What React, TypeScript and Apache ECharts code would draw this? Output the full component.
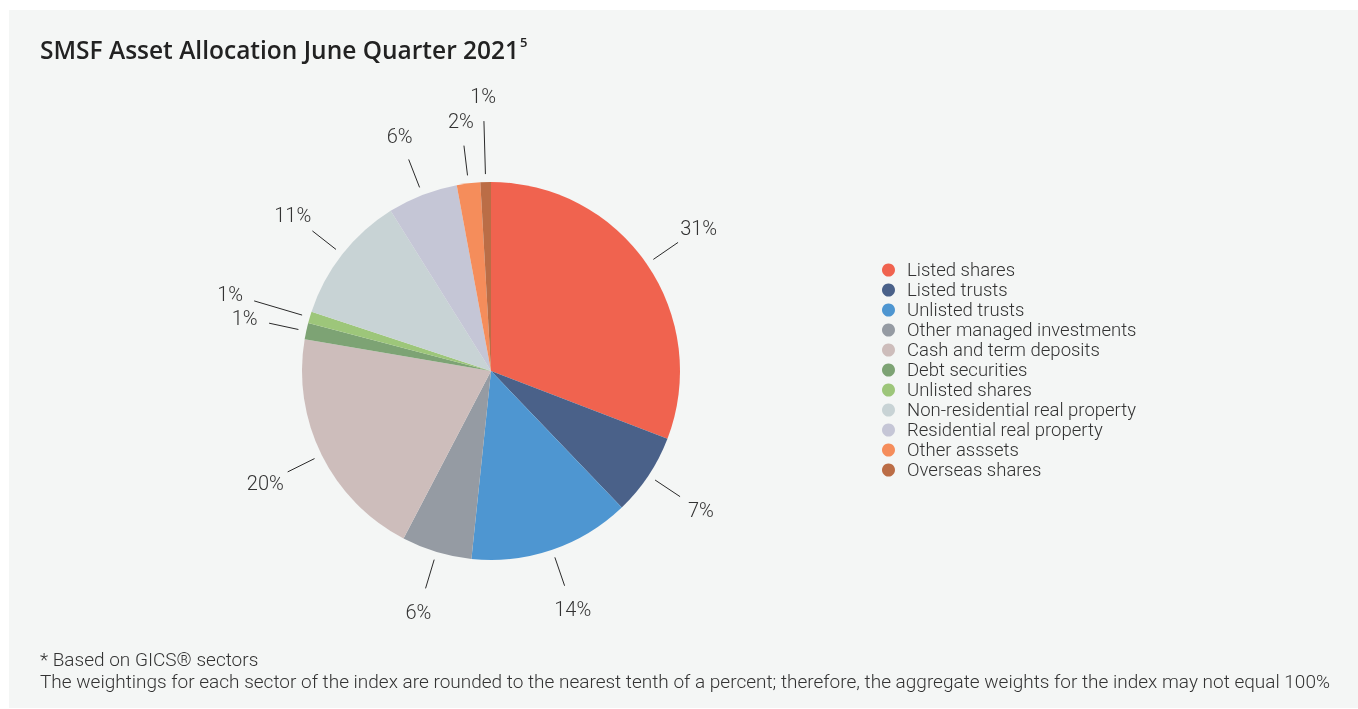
import React, { useEffect, useRef } from "react";
import * as echarts from "echarts";

const categories = [
  "Listed shares",
  "Listed trusts",
  "Unlisted trusts",
  "Other managed investments",
  "Cash and term deposits",
  "Debt securities",
  "Unlisted shares",
  "Non-residential real property",
  "Residential real property",
  "Other asssets",
  "Overseas shares",
];
const values = [30.8, 7.0, 13.8, 6.0, 20.0, 1.4, 1.0, 11.0, 6.0, 2.0, 0.9];
const colors = [
  "#f0634f",
  "#4a6189",
  "#4e96d1",
  "#959ba3",
  "#cdbdbb",
  "#7da374",
  "#9dc67a",
  "#c8d3d5",
  "#c5c6d6",
  "#f58d5b",
  "#bb6d46",
];
const titleText = "SMSF Asset Allocation June Quarter 2021";
const titleSup = "5";
const footnote1 = "* Based on GICS® sectors";
const footnote2 =
  "The weightings for each sector of the index are rounded to the nearest tenth of a percent; therefore, the aggregate weights for the index may not equal 100%";

const FONT = "Roboto, 'Liberation Sans', sans-serif";
const TITLE_FONT = "'Open Sans', Roboto, sans-serif";
const CX = 491;
const CY = 371;
const PIE_R = 189;
const LINE_START = 197;
const LABEL_R = 252;
const LABEL_GAP = 25;
const LABEL_FS = 20;

function textWidth(t: string, fs: number) {
  let w = 0;
  for (const ch of t) w += ch === "%" ? 0.78 * fs : 0.56 * fs;
  return w;
}

export default function App() {
  const ref = useRef<HTMLDivElement>(null);
  useEffect(() => {
    if (!ref.current) return;
    const chart = echarts.init(ref.current, undefined, { renderer: "svg" });
    const total = values.reduce((a, b) => a + b, 0);
    const labels = values.map((v) => `${Math.round(v)}%`);
    const mids: number[] = [];
    let acc = 0;
    values.forEach((v) => {
      mids.push(acc + v / 2);
      acc += v;
    });
    const boxes: { x: number; y: number; w: number; h: number }[] = [];
    const radii: number[] = [];
    const pad = 5;
    mids.forEach((m, i) => {
      const th = (m / total) * Math.PI * 2;
      const w = textWidth(labels[i], LABEL_FS);
      const h = LABEL_FS - 1;
      let r = LABEL_R;
      const mk = (rr: number) => ({
        x: rr * Math.sin(th) - w / 2,
        y: -rr * Math.cos(th) - h / 2,
        w,
        h,
      });
      let b = mk(r);
      const prev = boxes[i - 1];
      const overlaps = (a: any, c: any) =>
        a.x < c.x + c.w + pad &&
        c.x < a.x + a.w + pad &&
        a.y < c.y + c.h + pad &&
        c.y < a.y + a.h + pad;
      while (prev && overlaps(b, prev) && r < LABEL_R + 60) {
        r += 1;
        b = mk(r);
      }
      boxes.push(b);
      radii.push(r);
    });

    const option: any = {
      animation: false,
      color: colors,
      graphic: [
        {
          type: "rect",
          silent: true,
          z: -10,
          shape: { x: 9, y: 10, width: 1349, height: 698 },
          style: { fill: "#f4f6f5" },
        },
        {
          type: "text",
          x: 40,
          y: 49,
          style: {
            text: `{t|${titleText}}{s|${titleSup}}`,
            fill: "#222",
            verticalAlign: "middle",
            rich: {
              t: {
                fontFamily: TITLE_FONT,
                fontSize: 24.5,
                fontWeight: 600,
                fill: "#222",
                color: "#222",
                height: 28,
              },
              s: {
                fontFamily: TITLE_FONT,
                fontSize: 13,
                fontWeight: 600,
                color: "#222",
                fill: "#222",
                height: 28,
                lineHeight: 28,
                padding: [0, 0, 15, 1],
              },
            },
          },
        },
        {
          type: "text",
          x: 40,
          y: 659,
          style: {
            text: footnote1,
            fill: "#333",
            fontFamily: FONT,
            fontSize: 19,
            fontWeight: 300,
            verticalAlign: "middle",
          },
        },
        {
          type: "text",
          x: 40,
          y: 681,
          style: {
            text: footnote2,
            fill: "#333",
            fontFamily: FONT,
            fontSize: 19,
            fontWeight: 300,
            verticalAlign: "middle",
          },
        },
      ],
      legend: {
        orient: "vertical",
        left: 877,
        top: 255,
        icon: "circle",
        itemWidth: 13,
        itemHeight: 13,
        itemGap: 0,
        selectedMode: false,
        data: categories,
        textStyle: {
          fontFamily: FONT,
          fontSize: 18.5,
          fontWeight: 300,
          color: "#333",
          lineHeight: 20,
          padding: [0, 0, 0, 7],
        },
      },
      polar: { center: [CX, CY], radius: 300 },
      radiusAxis: {
        type: "value",
        min: 0,
        max: 300,
        show: false,
        axisLine: { show: false },
        axisTick: { show: false },
        axisLabel: { show: false },
        splitLine: { show: false },
      },
      angleAxis: {
        type: "value",
        min: 0,
        max: total,
        startAngle: 90,
        clockwise: true,
        show: false,
        axisLine: { show: false },
        axisTick: { show: false },
        axisLabel: { show: false },
        splitLine: { show: false },
      },
      series: [
        {
          type: "pie",
          center: [CX, CY],
          radius: PIE_R,
          startAngle: 90,
          clockwise: true,
          silent: true,
          label: { show: false },
          labelLine: { show: false },
          itemStyle: { borderWidth: 0 },
          emphasis: { disabled: true },
          data: categories.map((name, i) => ({ name, value: values[i] })),
        },
        {
          type: "custom",
          coordinateSystem: "polar",
          silent: true,
          clip: false,
          encode: { radius: 0, angle: 1 },
          data: mids.map((m, i) => [radii[i], m]),
          renderItem: (params: any, api: any) => {
            const i = params.dataIndex;
            const rl = api.value(0);
            const m = api.value(1);
            const p0 = api.coord([LINE_START, m]);
            const p1 = api.coord([rl - LABEL_GAP, m]);
            const pt = api.coord([rl, m]);
            return {
              type: "group",
              children: [
                {
                  type: "line",
                  shape: { x1: p0[0], y1: p0[1], x2: p1[0], y2: p1[1] },
                  style: { stroke: "#2a2a2a", lineWidth: 1 },
                },
                {
                  type: "text",
                  x: pt[0],
                  y: pt[1],
                  style: {
                    text: labels[i],
                    fill: "#333",
                    fontFamily: FONT,
                    fontSize: LABEL_FS,
                    fontWeight: 300,
                    align: "center",
                    verticalAlign: "middle",
                  },
                },
              ],
            };
          },
        },
      ],
    };
    chart.setOption(option);
    return () => chart.dispose();
  }, []);
  return (
    <div
      ref={ref}
      style={{ position: "fixed", left: 0, top: 0, width: 1358, height: 709 }}
    />
  );
}
